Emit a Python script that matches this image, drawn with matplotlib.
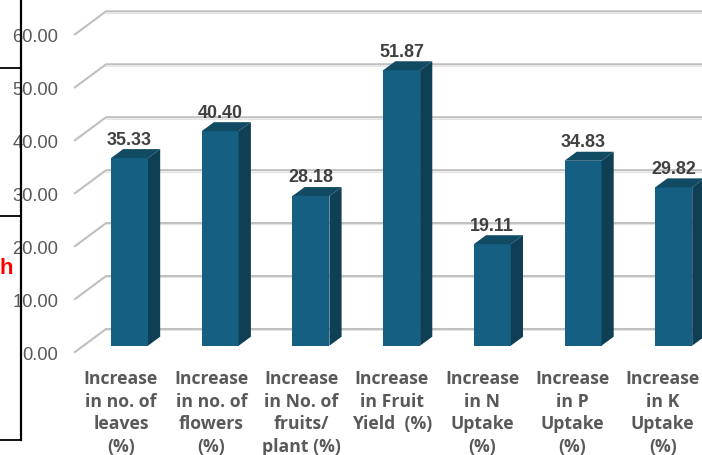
import matplotlib
matplotlib.use("Agg")
import matplotlib.pyplot as plt
from matplotlib.patches import Polygon

categories = ["Increase\nin no. of\nleaves\n(%)", "Increase\nin no. of\nflowers\n(%)",
              "Increase\nin No. of\nfruits/\nplant (%)", "Increase\nin Fruit\nYield  (%)",
              "Increase\nin N\nUptake\n(%)", "Increase\nin P\nUptake\n(%)", "Increase\nin K\nUptake\n(%)"]
values = [35.33, 40.40, 28.18, 51.87, 19.11, 34.83, 29.82]
ticks = [0, 10, 20, 30, 40, 50, 60]

W, H = 702, 456
STEP = 90.7      # px per category
C0 = 129.5       # px of first bar centre
UNIT = 5.31      # px per value unit
BASE = 346.7     # px of value zero at the bar front

fig = plt.figure(figsize=(W / 100, H / 100), dpi=100)
ax = fig.add_axes([0, 0, 1, 1])
ax.set_xlim(-C0 / STEP, (W - C0) / STEP)
ax.set_ylim((BASE - H) / UNIT, BASE / UNIT)
ax.axis("off")

dx = 12.2 / STEP
dy = 9.0 / UNIT
width = 37 / STEP
FRONT, SIDE, TOP = "#156082", "#0E3F55", "#104A63"

# walls: gridlines with their floor/side return
gx0, gx1, gx2 = (75 - C0) / STEP, (106 - C0) / STEP, (W + 2 - C0) / STEP
front_off, back_off = -6.3 / UNIT, 16.7 / UNIT
GRID_SCALE = 0.997
for t in ticks:
    g = t * GRID_SCALE
    ax.plot([gx0, gx1, gx2], [g + front_off, g + back_off, g + back_off], color="#BFBFBF",
            lw=1.5, solid_joinstyle="miter", zorder=1)
    ax.plot([gx1, gx2], [g + back_off - 0.25, g + back_off - 0.25], color="#E4E4E4", lw=0.8, zorder=1)
    ax.text((58.5 - C0) / STEP, g + front_off - 0.1, f"{t:.2f}", ha="right", va="center_baseline",
            fontsize=13.2, color="#595959", family="Liberation Sans", zorder=2)

# black frame fragments and clipped red letter behind the chart
ax.plot([(21 - C0) / STEP] * 2, [(BASE - 441) / UNIT, BASE / UNIT + 1], color="black", lw=1.6, zorder=3)
for py in (68.5, 217, 441):
    ax.plot([-C0 / STEP - 0.1, (21 - C0) / STEP], [(BASE - py) / UNIT] * 2, color="black", lw=1.3, zorder=3)
ax.text((13 - C0) / STEP, (BASE - 269) / UNIT, "h", ha="right", va="center", color="#FF0000",
        fontsize=16, fontweight="bold", family="Liberation Sans", zorder=3)

for i, (v, cat) in enumerate(zip(values, categories)):
    l, r = i - width / 2, i + width / 2
    ax.bar(i, v, width=width, color=FRONT, zorder=4, linewidth=0)
    ax.add_patch(Polygon([(r, 0), (r + dx, dy), (r + dx, v + dy), (r, v)], closed=True,
                         facecolor=SIDE, edgecolor="none", zorder=4))
    ax.add_patch(Polygon([(l, v), (l + dx, v + dy), (r + dx, v + dy), (r, v)], closed=True,
                         facecolor=TOP, edgecolor="none", zorder=4))
    ax.text(i, v + dy + 1.05, f"{v:.2f}", ha="center", va="baseline", fontsize=12.9,
            fontweight="bold", color="#404040", family="Liberation Sans", zorder=5)
    ax.text(i - 8.5 / STEP - i * 0.4 / STEP, (BASE - 370) / UNIT, cat, ha="center", va="top", fontsize=12.7, fontweight="bold",
            color="#595959", family="Open Sans", linespacing=1.33, zorder=5)

fig.savefig("out.png", dpi=100)
